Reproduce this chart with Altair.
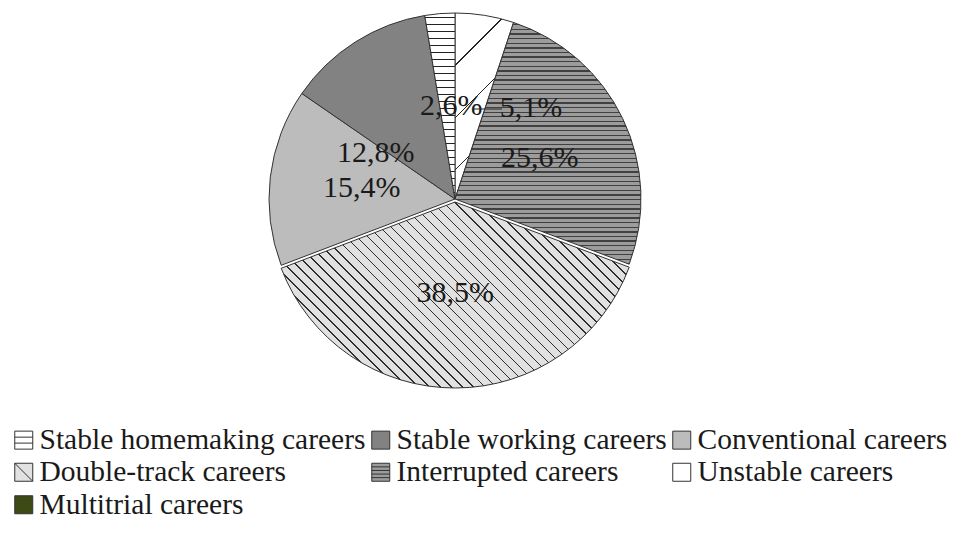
import math
import altair as alt
import pandas as pd

# ---------------- data ----------------
categories = ["Unstable careers", "Interrupted careers", "Double-track careers",
              "Conventional careers", "Stable working careers",
              "Stable homemaking careers", "Multitrial careers"]
shares = [5.1, 25.6, 38.5, 15.4, 12.8, 2.6, 0.0]
labels = ["5,1%", "25,6%", "38,5%", "15,4%", "12,8%", "2,6%", ""]
legend_order = ["Stable homemaking careers", "Stable working careers", "Conventional careers",
                "Double-track careers", "Interrupted careers", "Unstable careers",
                "Multitrial careers"]

df = pd.DataFrame({"category": categories, "share": shares, "label": labels,
                   "order": list(range(len(categories)))})

# ---------------- style ----------------
FONT = "Liberation Serif"
W_TOTAL, H_TOTAL = 941, 515
CX, CY, R = 447, 191, 186
EXPLODE = {"Double-track careers": 3}
LABEL_R = 94
LABEL_SHIFT = {"5,1%": (61, 2), "12,8%": (-29, 33), "2,6%": (4, 1)}
OUTLINE = "#333333"
TEXT_COLOR = "#1a1a1a"
FS = 29.5

legend_colors = {
    "Stable homemaking careers": "#ffffff",
    "Stable working careers": "#828282",
    "Conventional careers": "#bcbcbc",
    "Double-track careers": "#e1e1e1",
    "Interrupted careers": "#9c9c9c",
    "Unstable careers": "#ffffff",
    "Multitrial careers": "#3e4a16",
}
SQ = "M-1,-1H1V1H-1Z"
legend_shapes = {
    "Stable homemaking careers": SQ + " M-1,-0.33H1 M-1,0.33H1",
    "Stable working careers": SQ,
    "Conventional careers": SQ,
    "Double-track careers": SQ + " M-1,-1L1,1",
    "Interrupted careers": SQ + " M-1,-0.6H1 M-1,-0.2H1 M-1,0.2H1 M-1,0.6H1",
    "Unstable careers": SQ,
    "Multitrial careers": SQ,
}

# hatch definitions: (base colour, line colour, normal vector, spacing px, width px, phase ref)
hatches = {
    "Unstable careers": ("#ffffff", "#222222", (1, 1), 36.8, 1.0, -134 / math.sqrt(2)),
    "Interrupted careers": ("#9c9c9c", "#404040", (0, 1), 4.6, 1.3, 0.0),
    "Double-track careers": ("#e1e1e1", "#2e2e2e", (-1, 1), 7.8, 1.1, 0.0),
    "Stable homemaking careers": ("#ffffff", "#222222", (0, 1), 7.0, 1.1, 0.0),
}


def arc_bbox(a0, a1, r):
    pts = [(0.0, 0.0)]
    for a in (a0, a1):
        pts.append((r * math.sin(math.radians(a)), -r * math.cos(math.radians(a))))
    for a, p in ((0, (0, -r)), (90, (r, 0)), (180, (0, r)), (270, (-r, 0)), (360, (0, -r))):
        if a0 < a < a1:
            pts.append(p)
    xs = [p[0] for p in pts]
    ys = [p[1] for p in pts]
    return min(xs), max(xs), min(ys), max(ys)


def hatch_fill(a0, a1, spec):
    base, line, n, s, w, c0 = spec
    nl = math.hypot(*n)
    nx, ny = n[0] / nl, n[1] / nl
    xmin, xmax, ymin, ymax = arc_bbox(a0, a1, R)
    W, H = xmax - xmin, ymax - ymin
    corners = [nx * x + ny * y for x in (xmin, xmax) for y in (ymin, ymax)]
    mmin, mmax = min(corners), max(corners)
    L = mmax - mmin
    a = nx * W / L
    b = ny * H / L
    d2 = a * a + b * b
    dx, dy = a / d2, b / d2
    x1 = 0.0 if nx >= 0 else 1.0
    y1 = 0.0 if ny >= 0 else 1.0
    period = s / L
    width = w / L
    t = ((c0 - mmin) % s) / L
    stops = [{"offset": 0.0, "color": base}]
    while t < 1.0:
        lo, hi = max(t, 0.0), min(t + width, 1.0)
        if hi > lo:
            stops += [{"offset": round(lo, 5), "color": base},
                      {"offset": round(lo, 5), "color": line},
                      {"offset": round(hi, 5), "color": line},
                      {"offset": round(hi, 5), "color": base}]
        t += period
    stops.append({"offset": 1.0, "color": base})
    return {"gradient": "linear", "x1": x1, "y1": y1,
            "x2": x1 + dx, "y2": y1 + dy, "stops": stops}


theta_scale = alt.Scale(domain=[0, 100], range=[0, 2 * math.pi])

base = alt.Chart(df).transform_window(
    cum="sum(share)", sort=[alt.SortField("order")], frame=[None, 0]
).transform_calculate(
    start="datum.cum - datum.share", mid="datum.cum - datum.share / 2"
)

legend_def = alt.Legend(
    title=None, orient="none", legendX=1, legendY=417, columns=3, direction="horizontal",
    symbolSize=324, symbolStrokeColor=OUTLINE, symbolStrokeWidth=1,
    symbolOpacity=1, labelFont=FONT, labelFontSize=FS, labelColor=TEXT_COLOR,
    labelOffset=1, labelLimit=0, columnPadding=-3, rowPadding=1.5, padding=0,
)

legend_layer = base.mark_point(filled=True, opacity=0, size=30, strokeWidth=1).encode(
    x=alt.value(CX), y=alt.value(CY),
    color=alt.Color("category:N",
                    scale=alt.Scale(domain=legend_order,
                                    range=[legend_colors[c] for c in legend_order]),
                    legend=legend_def),
    shape=alt.Shape("category:N",
                    scale=alt.Scale(domain=legend_order,
                                    range=[legend_shapes[c] for c in legend_order]),
                    legend=legend_def),
    stroke=alt.Stroke("category:N",
                      scale=alt.Scale(domain=legend_order,
                                      range=[OUTLINE] * len(legend_order)),
                      legend=legend_def),
)

layers = [legend_layer]

cum = 0.0
for cat, val in zip(categories, shares):
    if val <= 0:
        continue
    a0, a1 = cum / 100 * 360, (cum + val) / 100 * 360
    cum += val
    fill = hatch_fill(a0, a1, hatches[cat]) if cat in hatches else legend_colors[cat]
    layers.append(
        base.transform_filter(alt.datum.category == cat).mark_arc(
            radius=R, fill=fill, stroke=OUTLINE, strokeWidth=1
        ).encode(
            theta=alt.Theta("start:Q", scale=theta_scale),
            theta2="cum:Q",
            x=alt.value(CX), y=alt.value(CY + EXPLODE.get(cat, 0)),
        )
    )

plain = [l for l in labels if l and l not in LABEL_SHIFT]
layers.append(
    base.transform_filter(alt.FieldOneOfPredicate(field="label", oneOf=plain)).mark_text(
        radius=LABEL_R, font=FONT, fontSize=30, color=TEXT_COLOR, baseline="middle"
    ).encode(theta=alt.Theta("mid:Q", scale=theta_scale), text="label:N",
             x=alt.value(CX), y=alt.value(CY))
)
for lab, (sx, sy) in LABEL_SHIFT.items():
    layers.append(
        base.transform_filter(alt.datum.label == lab).mark_text(
            radius=LABEL_R, font=FONT, fontSize=30, color=TEXT_COLOR, baseline="middle",
            dx=sx, dy=sy
        ).encode(theta=alt.Theta("mid:Q", scale=theta_scale), text="label:N",
                 x=alt.value(CX), y=alt.value(CY))
    )

# leader line for the 5,1% label
layers.append(
    alt.Chart(pd.DataFrame({"k": [0]})).mark_rule(color="#222222", strokeWidth=1).encode(
        x=alt.value(CX + 18), x2=alt.value(CX + 47), y=alt.value(CY - 90)
    )
)

chart = alt.layer(*layers).properties(
    width=W_TOTAL, height=H_TOTAL, padding=0,
    autosize=alt.AutoSizeParams(type="none"),
).configure_view(stroke=None)

chart.save("out.html", embed_options={"renderer": "svg", "actions": False})
